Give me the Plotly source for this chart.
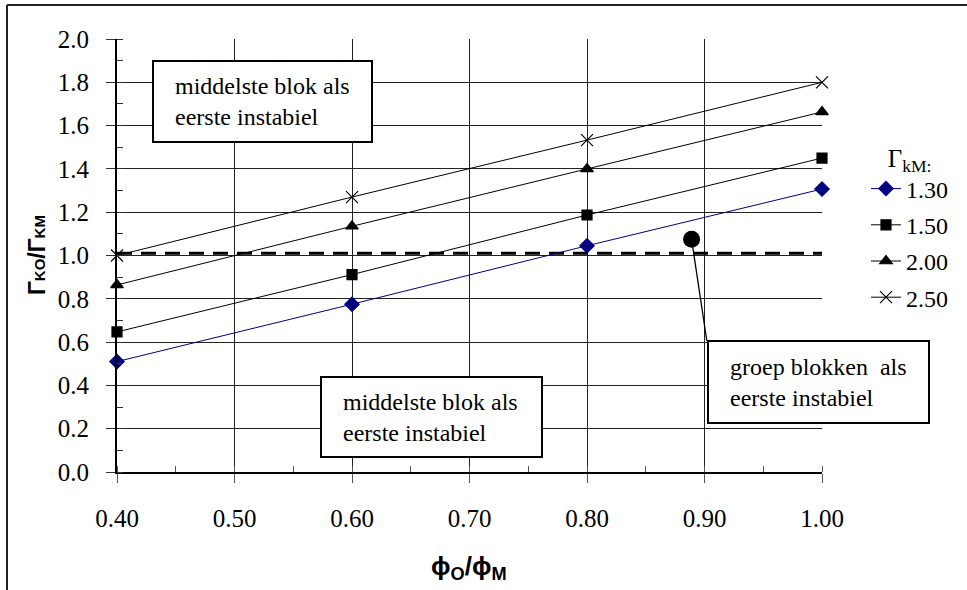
import plotly.graph_objects as go

# Ratio phi_O / phi_M on the horizontal axis
ratio_phi = [0.40, 0.60, 0.80, 1.00]

# Gamma_KO / Gamma_KM for each Gamma_KM value
series_names = ["1.30", "1.50", "2.00", "2.50"]
g_130 = [0.51, 0.775, 1.045, 1.307]
g_150 = [0.647, 0.912, 1.187, 1.45]
g_200 = [0.864, 1.135, 1.40, 1.663]
g_250 = [1.00, 1.27, 1.533, 1.80]

# Boundary line and single point
boundary_x = [0.40, 1.00]
boundary_y = [1.01, 1.01]
point_x = [0.889]
point_y = [1.075]

# Plot area in pixels
W, H = 967, 590
L, R, T, B = 117, 822, 39, 472


def px(x):
    return (x - L) / (R - L)


def py(y):
    return (B - y) / (B - T)


SERIF = "Times New Roman, Liberation Serif, Tinos, DejaVu Serif, serif"
SANS = "Arial, Liberation Sans, Arimo, DejaVu Sans, sans-serif"

fig = go.Figure()

fig.add_trace(go.Scatter(
    x=boundary_x, y=boundary_y, mode="lines",
    line=dict(color="black", width=3, dash="15px,9px"),
    showlegend=False, hoverinfo="skip"))

styles = [
    dict(color="#000080", symbol="diamond", size=11),
    dict(color="black", symbol="square", size=10),
    dict(color="black", symbol="triangle-up", size=11),
    dict(color="black", symbol="x-thin-open", size=12),
]
for name, ys, st in zip(series_names, [g_130, g_150, g_200, g_250], styles):
    fig.add_trace(go.Scatter(
        x=ratio_phi, y=ys, name=name, mode="lines+markers",
        legendgroup=name, cliponaxis=False,
        line=dict(color=st["color"], width=1),
        marker=dict(symbol=st["symbol"], size=st["size"], color=st["color"],
                    line=dict(color=st["color"], width=1.2))))

fig.add_trace(go.Scatter(
    x=point_x, y=point_y, mode="markers",
    marker=dict(color="black", size=17, symbol="circle"),
    showlegend=False, hoverinfo="skip"))

shapes = []
annotations = []

# Callout line from the point to its text box
shapes.append(dict(type="line", xref="x", yref="y", layer="above",
                   x0=point_x[0], y0=point_y[0], x1=0.902, y1=0.605,
                   line=dict(color="black", width=1.3)))

# Text boxes (left, top, right, bottom in pixels)
boxes = [
    ((153, 61, 372, 142), "middelste blok als<br>eerste instabiel"),
    ((321, 377, 542, 457), "middelste blok als<br>eerste instabiel"),
    ((708, 341, 929, 423), "groep blokken  als<br>eerste instabiel"),
]
for (x0, y0, x1, y1), txt in boxes:
    shapes.append(dict(type="rect", xref="paper", yref="paper", layer="above",
                       x0=px(x0), y0=py(y0), x1=px(x1), y1=py(y1),
                       fillcolor="white", line=dict(color="black", width=2)))
    annotations.append(dict(xref="paper", yref="paper", x=px(x0 + 20),
                            y=py((y0 + y1) / 2), xanchor="left", yanchor="middle",
                            text=txt, align="left", showarrow=False,
                            font=dict(family=SERIF, size=24, color="black")))

# Outer frame lines
shapes.append(dict(type="line", xref="paper", yref="paper", layer="above",
                   x0=px(7), y0=py(5), x1=px(967), y1=py(5),
                   line=dict(color="#222", width=2)))
shapes.append(dict(type="line", xref="paper", yref="paper", layer="above",
                   x0=px(7), y0=py(5), x1=px(7), y1=py(590),
                   line=dict(color="#222", width=2)))

# Axis titles
annotations.append(dict(
    xref="paper", yref="paper", x=px(37), y=py(255), xanchor="center",
    yanchor="middle", textangle=-90, showarrow=False,
    text="<b>Γ<span style='font-size:15px'>KO</span>/Γ<span style='font-size:15px'>KM</span></b>",
    font=dict(family=SANS, size=23, color="black")))
annotations.append(dict(
    xref="paper", yref="paper", x=px(469), y=py(567), xanchor="center",
    yanchor="middle", showarrow=False,
    text="<b>ϕ<sub>O</sub>/ϕ<sub>M</sub></b>",
    font=dict(family=SANS, size=26, color="black")))

fig.update_layout(
    width=W, height=H, autosize=False,
    margin=dict(l=L, r=W - R, t=T, b=H - B),
    paper_bgcolor="white", plot_bgcolor="white",
    font=dict(family=SERIF, size=24, color="black"),
    shapes=shapes, annotations=annotations,
    legend=dict(
        x=px(866), y=py(134), xanchor="left", yanchor="top",
        bgcolor="rgba(0,0,0,0)", tracegroupgap=2,
        font=dict(family=SERIF, size=24, color="black"),
        title=dict(text="Γ<sub>kM:</sub>", side="top center",
                   font=dict(family=SERIF, size=25)),
    ),
    xaxis=dict(
        range=[0.40, 1.00], dtick=0.1, tick0=0.4, tickformat=".2f",
        showgrid=True, gridcolor="#222", gridwidth=1,
        showline=True, linecolor="black", linewidth=2,
        ticks="outside", ticklen=9, tickcolor="#555", tickwidth=1,
        ticklabelstandoff=14,
        minor=dict(dtick=0.05, ticks="inside", ticklen=6, tickcolor="#555",
                   showgrid=False),
        zeroline=False,
        tickfont=dict(family=SERIF, size=25, color="black"),
    ),
    yaxis=dict(
        range=[0.0, 2.0], dtick=0.2, tick0=0, tickformat=".1f",
        showgrid=True, gridcolor="#222", gridwidth=1,
        showline=True, linecolor="black", linewidth=2,
        ticks="outside", ticklen=9, tickcolor="#333", tickwidth=1,
        ticklabelstandoff=12,
        minor=dict(dtick=0.1, ticks="inside", ticklen=6, tickcolor="#333",
                   showgrid=False),
        zeroline=False,
        tickfont=dict(family=SERIF, size=25, color="black"),
    ),
)

fig.write_html("out.html")
